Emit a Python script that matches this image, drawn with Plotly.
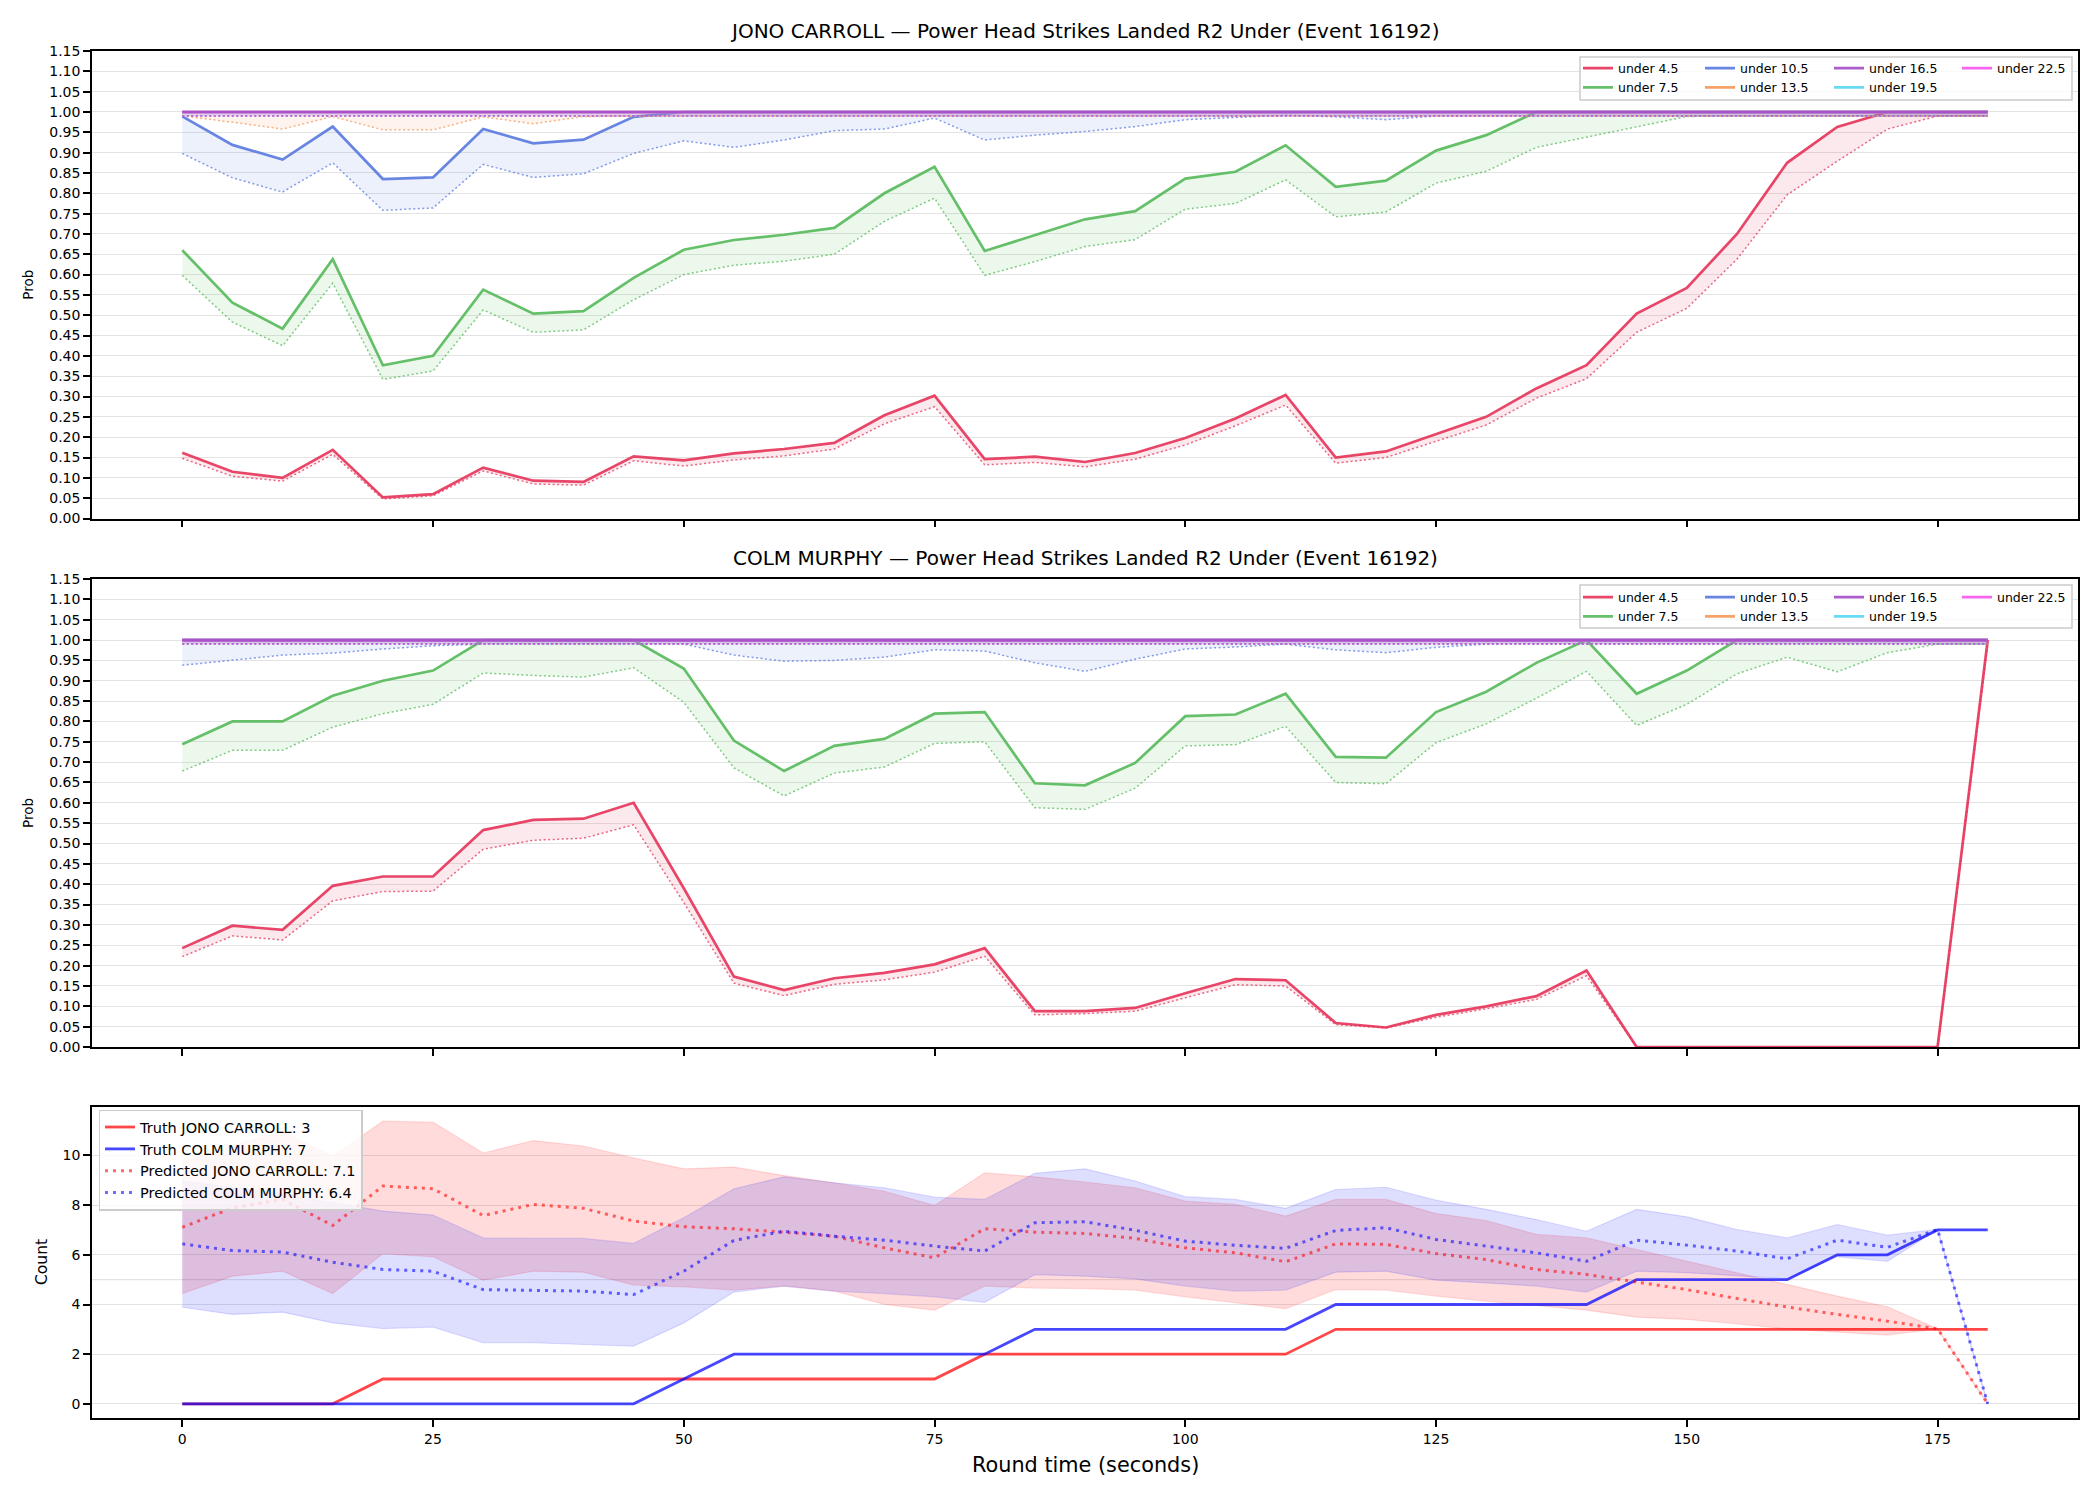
import plotly.graph_objects as go

# ---------------- data ----------------
t = [0, 5, 10, 15, 20, 25, 30, 35, 40, 45, 50, 55, 60, 65, 70, 75, 80, 85, 90, 95,
     100, 105, 110, 115, 120, 125, 130, 135, 140, 145, 150, 155, 160, 165, 170, 175, 180]

fighter_a = "JONO CARROLL"
fighter_b = "COLM MURPHY"
market = "Power Head Strikes Landed R2 Under (Event 16192)"

labels = ["under 4.5", "under 7.5", "under 10.5", "under 13.5", "under 16.5", "under 19.5", "under 22.5"]
colors = ["#e6365b", "#58bb5c", "#5b7be0", "#f59a5c", "#a550c8", "#5ad8f2", "#f558ee"]

# JONO CARROLL: solid line and dotted lower line per threshold
jono_u45 = [0.162, 0.115, 0.100, 0.169, 0.052, 0.060, 0.125, 0.093, 0.090, 0.153,
            0.143, 0.160, 0.171, 0.186, 0.254, 0.302, 0.146, 0.152, 0.139, 0.161,
            0.198, 0.246, 0.304, 0.150, 0.165, 0.207, 0.250, 0.320, 0.377, 0.504,
            0.567, 0.700, 0.875, 0.963, 1.0, 1.0, 1.0]
jono_u45_dot = [0.148, 0.104, 0.092, 0.158, 0.048, 0.056, 0.117, 0.085, 0.082, 0.142,
                0.129, 0.144, 0.154, 0.171, 0.233, 0.275, 0.132, 0.138, 0.127, 0.146,
                0.181, 0.228, 0.279, 0.136, 0.150, 0.190, 0.230, 0.296, 0.344, 0.458,
                0.517, 0.638, 0.796, 0.879, 0.958, 0.990, 0.990]
jono_u75 = [0.660, 0.531, 0.467, 0.638, 0.377, 0.400, 0.563, 0.504, 0.510, 0.592,
            0.661, 0.685, 0.698, 0.715, 0.800, 0.865, 0.658, 0.697, 0.736, 0.756,
            0.836, 0.853, 0.918, 0.816, 0.831, 0.905, 0.943, 1.0, 1.0, 1.0,
            1.0, 1.0, 1.0, 1.0, 1.0, 1.0, 1.0]
jono_u75_dot = [0.598, 0.483, 0.425, 0.579, 0.342, 0.363, 0.513, 0.458, 0.464, 0.538,
                0.600, 0.623, 0.633, 0.650, 0.731, 0.788, 0.598, 0.632, 0.669, 0.686,
                0.761, 0.775, 0.833, 0.742, 0.754, 0.825, 0.854, 0.913, 0.938, 0.963,
                0.989, 0.990, 0.990, 0.990, 0.990, 0.990, 0.990]
jono_u105 = [0.989, 0.919, 0.883, 0.964, 0.835, 0.839, 0.958, 0.923, 0.932, 0.988,
             1.0, 1.0, 1.0, 1.0, 1.0, 1.0, 1.0, 1.0, 1.0, 1.0,
             1.0, 1.0, 1.0, 1.0, 1.0, 1.0, 1.0, 1.0, 1.0, 1.0,
             1.0, 1.0, 1.0, 1.0, 1.0, 1.0, 1.0]
jono_u105_dot = [0.898, 0.838, 0.803, 0.875, 0.758, 0.764, 0.871, 0.839, 0.848, 0.898,
                 0.929, 0.913, 0.931, 0.954, 0.958, 0.985, 0.931, 0.943, 0.952, 0.964,
                 0.981, 0.986, 0.992, 0.988, 0.981, 0.990, 0.990, 0.990, 0.990, 0.990,
                 0.990, 0.990, 0.990, 0.990, 0.990, 0.990, 0.990]
jono_u135 = [1.0, 1.0, 1.0, 1.0, 1.0, 1.0, 1.0, 1.0, 1.0, 1.0,
             1.0, 1.0, 1.0, 1.0, 1.0, 1.0, 1.0, 1.0, 1.0, 1.0,
             1.0, 1.0, 1.0, 1.0, 1.0, 1.0, 1.0, 1.0, 1.0, 1.0,
             1.0, 1.0, 1.0, 1.0, 1.0, 1.0, 1.0]
jono_u135_dot = [0.990, 0.975, 0.958, 0.989, 0.956, 0.956, 0.988, 0.971, 0.989, 0.990,
                 0.990, 0.990, 0.990, 0.990, 0.990, 0.990, 0.990, 0.990, 0.990, 0.990,
                 0.990, 0.990, 0.990, 0.990, 0.990, 0.990, 0.990, 0.990, 0.990, 0.990,
                 0.990, 0.990, 0.990, 0.990, 0.990, 0.990, 0.990]
jono_u165 = [1.0, 1.0, 1.0, 1.0, 1.0, 1.0, 1.0, 1.0, 1.0, 1.0,
             1.0, 1.0, 1.0, 1.0, 1.0, 1.0, 1.0, 1.0, 1.0, 1.0,
             1.0, 1.0, 1.0, 1.0, 1.0, 1.0, 1.0, 1.0, 1.0, 1.0,
             1.0, 1.0, 1.0, 1.0, 1.0, 1.0, 1.0]
jono_u165_dot = [0.990, 0.990, 0.990, 0.990, 0.990, 0.990, 0.990, 0.990, 0.990, 0.990,
                 0.990, 0.990, 0.990, 0.990, 0.990, 0.990, 0.990, 0.990, 0.990, 0.990,
                 0.990, 0.990, 0.990, 0.990, 0.990, 0.990, 0.990, 0.990, 0.990, 0.990,
                 0.990, 0.990, 0.990, 0.990, 0.990, 0.990, 0.990]
jono_u195 = [1.0, 1.0, 1.0, 1.0, 1.0, 1.0, 1.0, 1.0, 1.0, 1.0,
             1.0, 1.0, 1.0, 1.0, 1.0, 1.0, 1.0, 1.0, 1.0, 1.0,
             1.0, 1.0, 1.0, 1.0, 1.0, 1.0, 1.0, 1.0, 1.0, 1.0,
             1.0, 1.0, 1.0, 1.0, 1.0, 1.0, 1.0]
jono_u195_dot = [0.990, 0.990, 0.990, 0.990, 0.990, 0.990, 0.990, 0.990, 0.990, 0.990,
                 0.990, 0.990, 0.990, 0.990, 0.990, 0.990, 0.990, 0.990, 0.990, 0.990,
                 0.990, 0.990, 0.990, 0.990, 0.990, 0.990, 0.990, 0.990, 0.990, 0.990,
                 0.990, 0.990, 0.990, 0.990, 0.990, 0.990, 0.990]
jono_u225 = [1.0, 1.0, 1.0, 1.0, 1.0, 1.0, 1.0, 1.0, 1.0, 1.0,
             1.0, 1.0, 1.0, 1.0, 1.0, 1.0, 1.0, 1.0, 1.0, 1.0,
             1.0, 1.0, 1.0, 1.0, 1.0, 1.0, 1.0, 1.0, 1.0, 1.0,
             1.0, 1.0, 1.0, 1.0, 1.0, 1.0, 1.0]
jono_u225_dot = [0.990, 0.990, 0.990, 0.990, 0.990, 0.990, 0.990, 0.990, 0.990, 0.990,
                 0.990, 0.990, 0.990, 0.990, 0.990, 0.990, 0.990, 0.990, 0.990, 0.990,
                 0.990, 0.990, 0.990, 0.990, 0.990, 0.990, 0.990, 0.990, 0.990, 0.990,
                 0.990, 0.990, 0.990, 0.990, 0.990, 0.990, 0.990]

# COLM MURPHY
colm_u45 = [0.243, 0.298, 0.288, 0.396, 0.419, 0.419, 0.533, 0.558, 0.561, 0.600,
            0.390, 0.173, 0.140, 0.169, 0.182, 0.203, 0.243, 0.088, 0.088, 0.096,
            0.132, 0.167, 0.164, 0.059, 0.048, 0.079, 0.100, 0.125, 0.188, 0.0,
            0.0, 0.0, 0.0, 0.0, 0.0, 0.0, 1.0]
colm_u45_dot = [0.222, 0.273, 0.263, 0.359, 0.382, 0.383, 0.486, 0.508, 0.513, 0.546,
                0.355, 0.157, 0.126, 0.154, 0.165, 0.184, 0.223, 0.079, 0.082, 0.088,
                0.121, 0.153, 0.150, 0.055, 0.047, 0.073, 0.094, 0.117, 0.175, 0.0,
                0.0, 0.0, 0.0, 0.0, 0.0, 0.0, 0.990]
colm_u75 = [0.744, 0.800, 0.800, 0.863, 0.900, 0.925, 1.0, 1.0, 1.0, 1.0,
            0.930, 0.753, 0.678, 0.740, 0.757, 0.819, 0.823, 0.648, 0.643, 0.698,
            0.813, 0.817, 0.868, 0.713, 0.711, 0.823, 0.873, 0.944, 1.0, 0.868,
            0.925, 1.0, 1.0, 1.0, 1.0, 1.0, 1.0]
colm_u75_dot = [0.678, 0.729, 0.729, 0.786, 0.819, 0.842, 0.919, 0.913, 0.909, 0.932,
                0.847, 0.686, 0.617, 0.673, 0.688, 0.746, 0.750, 0.588, 0.584, 0.636,
                0.740, 0.743, 0.788, 0.650, 0.647, 0.748, 0.794, 0.857, 0.923, 0.790,
                0.842, 0.917, 0.958, 0.922, 0.969, 0.990, 0.990]
colm_u105 = [1.0, 1.0, 1.0, 1.0, 1.0, 1.0, 1.0, 1.0, 1.0, 1.0,
             1.0, 1.0, 1.0, 1.0, 1.0, 1.0, 1.0, 1.0, 1.0, 1.0,
             1.0, 1.0, 1.0, 1.0, 1.0, 1.0, 1.0, 1.0, 1.0, 1.0,
             1.0, 1.0, 1.0, 1.0, 1.0, 1.0, 1.0]
colm_u105_dot = [0.938, 0.950, 0.963, 0.968, 0.978, 0.986, 0.990, 0.990, 0.990, 0.990,
                 0.990, 0.963, 0.948, 0.950, 0.958, 0.976, 0.973, 0.944, 0.923, 0.953,
                 0.978, 0.983, 0.990, 0.976, 0.969, 0.982, 0.990, 0.990, 0.990, 0.990,
                 0.990, 0.990, 0.990, 0.990, 0.990, 0.990, 0.990]
colm_u135 = [1.0, 1.0, 1.0, 1.0, 1.0, 1.0, 1.0, 1.0, 1.0, 1.0,
             1.0, 1.0, 1.0, 1.0, 1.0, 1.0, 1.0, 1.0, 1.0, 1.0,
             1.0, 1.0, 1.0, 1.0, 1.0, 1.0, 1.0, 1.0, 1.0, 1.0,
             1.0, 1.0, 1.0, 1.0, 1.0, 1.0, 1.0]
colm_u135_dot = [0.990, 0.990, 0.990, 0.990, 0.990, 0.990, 0.990, 0.990, 0.990, 0.990,
                 0.990, 0.990, 0.990, 0.990, 0.990, 0.990, 0.990, 0.990, 0.990, 0.990,
                 0.990, 0.990, 0.990, 0.990, 0.990, 0.990, 0.990, 0.990, 0.990, 0.990,
                 0.990, 0.990, 0.990, 0.990, 0.990, 0.990, 0.990]
colm_u165 = [1.0, 1.0, 1.0, 1.0, 1.0, 1.0, 1.0, 1.0, 1.0, 1.0,
             1.0, 1.0, 1.0, 1.0, 1.0, 1.0, 1.0, 1.0, 1.0, 1.0,
             1.0, 1.0, 1.0, 1.0, 1.0, 1.0, 1.0, 1.0, 1.0, 1.0,
             1.0, 1.0, 1.0, 1.0, 1.0, 1.0, 1.0]
colm_u165_dot = [0.990, 0.990, 0.990, 0.990, 0.990, 0.990, 0.990, 0.990, 0.990, 0.990,
                 0.990, 0.990, 0.990, 0.990, 0.990, 0.990, 0.990, 0.990, 0.990, 0.990,
                 0.990, 0.990, 0.990, 0.990, 0.990, 0.990, 0.990, 0.990, 0.990, 0.990,
                 0.990, 0.990, 0.990, 0.990, 0.990, 0.990, 0.990]
colm_u195 = [1.0, 1.0, 1.0, 1.0, 1.0, 1.0, 1.0, 1.0, 1.0, 1.0,
             1.0, 1.0, 1.0, 1.0, 1.0, 1.0, 1.0, 1.0, 1.0, 1.0,
             1.0, 1.0, 1.0, 1.0, 1.0, 1.0, 1.0, 1.0, 1.0, 1.0,
             1.0, 1.0, 1.0, 1.0, 1.0, 1.0, 1.0]
colm_u195_dot = [0.990, 0.990, 0.990, 0.990, 0.990, 0.990, 0.990, 0.990, 0.990, 0.990,
                 0.990, 0.990, 0.990, 0.990, 0.990, 0.990, 0.990, 0.990, 0.990, 0.990,
                 0.990, 0.990, 0.990, 0.990, 0.990, 0.990, 0.990, 0.990, 0.990, 0.990,
                 0.990, 0.990, 0.990, 0.990, 0.990, 0.990, 0.990]
colm_u225 = [1.0, 1.0, 1.0, 1.0, 1.0, 1.0, 1.0, 1.0, 1.0, 1.0,
             1.0, 1.0, 1.0, 1.0, 1.0, 1.0, 1.0, 1.0, 1.0, 1.0,
             1.0, 1.0, 1.0, 1.0, 1.0, 1.0, 1.0, 1.0, 1.0, 1.0,
             1.0, 1.0, 1.0, 1.0, 1.0, 1.0, 1.0]
colm_u225_dot = [0.990, 0.990, 0.990, 0.990, 0.990, 0.990, 0.990, 0.990, 0.990, 0.990,
                 0.990, 0.990, 0.990, 0.990, 0.990, 0.990, 0.990, 0.990, 0.990, 0.990,
                 0.990, 0.990, 0.990, 0.990, 0.990, 0.990, 0.990, 0.990, 0.990, 0.990,
                 0.990, 0.990, 0.990, 0.990, 0.990, 0.990, 0.990]

# Counts panel
jono_truth = [0, 0, 0, 0, 1, 1, 1, 1, 1, 1,
              1, 1, 1, 1, 1, 1, 2, 2, 2, 2,
              2, 2, 2, 3, 3, 3, 3, 3, 3, 3,
              3, 3, 3, 3, 3, 3, 3]
colm_truth = [0, 0, 0, 0, 0, 0, 0, 0, 0, 0,
              1, 2, 2, 2, 2, 2, 2, 3, 3, 3,
              3, 3, 3, 4, 4, 4, 4, 4, 4, 5,
              5, 5, 5, 6, 6, 7, 7]
jono_pred = [7.11, 7.89, 8.23, 7.18, 8.77, 8.66, 7.58, 8.03, 7.87, 7.36,
             7.13, 7.05, 6.91, 6.75, 6.28, 5.88, 7.05, 6.91, 6.86, 6.66,
             6.28, 6.08, 5.72, 6.44, 6.42, 6.05, 5.81, 5.41, 5.21, 4.90,
             4.60, 4.24, 3.90, 3.60, 3.33, 3.02, 0.0]
jono_hi = [9.73, 10.40, 10.95, 9.97, 11.38, 11.34, 10.10, 10.60, 10.38, 9.90,
           9.46, 9.53, 9.19, 8.90, 8.56, 7.99, 9.30, 9.14, 8.93, 8.70,
           8.16, 8.03, 7.56, 8.23, 8.23, 7.66, 7.38, 6.82, 6.68, 6.21,
           5.74, 5.28, 4.81, 4.34, 3.91, 3.02, 0.0]
jono_lo = [4.44, 5.14, 5.34, 4.44, 6.05, 5.92, 4.98, 5.34, 5.30, 4.78,
           4.71, 4.58, 4.74, 4.54, 4.00, 3.77, 4.74, 4.66, 4.64, 4.58,
           4.31, 4.07, 3.83, 4.60, 4.58, 4.34, 4.13, 3.96, 3.77, 3.49,
           3.40, 3.22, 3.02, 2.89, 2.77, 3.02, 0.0]
colm_pred = [6.44, 6.17, 6.11, 5.70, 5.41, 5.34, 4.60, 4.58, 4.54, 4.40,
             5.34, 6.58, 6.95, 6.75, 6.59, 6.35, 6.15, 7.29, 7.33, 6.99,
             6.55, 6.38, 6.26, 6.98, 7.09, 6.62, 6.35, 6.08, 5.74, 6.59,
             6.39, 6.15, 5.84, 6.59, 6.30, 7.02, 0.0]
colm_hi = [8.97, 8.72, 8.45, 8.10, 7.76, 7.60, 6.68, 6.66, 6.66, 6.46,
           7.49, 8.66, 9.14, 8.90, 8.70, 8.32, 8.23, 9.28, 9.46, 8.97,
           8.34, 8.23, 7.87, 8.63, 8.72, 8.20, 7.83, 7.42, 6.95, 7.83,
           7.53, 7.02, 6.68, 7.22, 6.79, 7.02, 0.0]
colm_lo = [3.89, 3.60, 3.69, 3.26, 3.03, 3.09, 2.46, 2.46, 2.39, 2.32,
           3.26, 4.50, 4.74, 4.54, 4.44, 4.31, 4.09, 5.20, 5.14, 5.03,
           4.74, 4.54, 4.58, 5.30, 5.34, 4.98, 4.87, 4.74, 4.50, 5.34,
           5.28, 5.14, 5.03, 5.92, 5.74, 7.02, 0.0]
count_ref_line = 5

x_ticks = [0, 25, 50, 75, 100, 125, 150, 175]
count_ticks = [0, 2, 4, 6, 8, 10]

jono_main = [jono_u45, jono_u75, jono_u105, jono_u135, jono_u165, jono_u195, jono_u225]
jono_dot = [jono_u45_dot, jono_u75_dot, jono_u105_dot, jono_u135_dot, jono_u165_dot, jono_u195_dot, jono_u225_dot]
colm_main = [colm_u45, colm_u75, colm_u105, colm_u135, colm_u165, colm_u195, colm_u225]
colm_dot = [colm_u45_dot, colm_u75_dot, colm_u105_dot, colm_u135_dot, colm_u165_dot, colm_u195_dot, colm_u225_dot]

# ---------------- helpers ----------------
FONT = "DejaVu Sans"


def rgba(hexc, a):
    h = hexc.lstrip("#")
    return "rgba(%d,%d,%d,%.3f)" % (int(h[0:2], 16), int(h[2:4], 16), int(h[4:6], 16), a)


# pixel geometry of the figure
W, H = 2100, 1500
L, R, T, B = 92, 22, 51, 82
PW, PH = W - L - R, H - T - B


def px_x(p):
    return (p - L) / PW


def px_y(p):
    return (H - B - p) / PH


fig = go.Figure()

# draw order puts "under 16.5" on top of the lines at 1.0
draw_order = [0, 1, 2, 3, 5, 6, 4]
legend_col = [0, 0, 1, 1, 2, 2, 3]


def add_prob_panel(mains, dots, xa, ya, legend_names):
    for i in draw_order:
        c = colors[i]
        grp = legend_names[legend_col[i]]
        fig.add_trace(go.Scatter(x=t, y=dots[i], mode="lines", xaxis=xa, yaxis=ya,
                                 line=dict(color=rgba(c, 0.75), width=1.5, dash="2px,2.5px"),
                                 showlegend=False, hoverinfo="skip", legend=grp))
        fig.add_trace(go.Scatter(x=t, y=mains[i], mode="lines", xaxis=xa, yaxis=ya,
                                 line=dict(width=0), fill="tonexty", fillcolor=rgba(c, 0.11),
                                 showlegend=False, hoverinfo="skip", legend=grp))
        fig.add_trace(go.Scatter(x=t, y=mains[i], mode="lines", xaxis=xa, yaxis=ya,
                                 name=labels[i], line=dict(color=rgba(c, 0.92), width=2.7),
                                 legend=grp, legendrank=i + 1))


add_prob_panel(jono_main, jono_dot, "x", "y", ["legend", "legend2", "legend3", "legend4"])
add_prob_panel(colm_main, colm_dot, "x2", "y2", ["legend5", "legend6", "legend7", "legend8"])

# counts panel
RED, BLUE = "#ff0000", "#0000ff"
fig.add_trace(go.Scatter(x=t, y=jono_lo, mode="lines", xaxis="x3", yaxis="y3", legend="legend9",
                         line=dict(color=rgba(RED, 0.12), width=1.2), showlegend=False, hoverinfo="skip"))
fig.add_trace(go.Scatter(x=t, y=jono_hi, mode="lines", xaxis="x3", yaxis="y3", fill="tonexty", legend="legend9",
                         fillcolor=rgba(RED, 0.14), line=dict(color=rgba(RED, 0.12), width=1.2),
                         showlegend=False, hoverinfo="skip"))
fig.add_trace(go.Scatter(x=t, y=colm_lo, mode="lines", xaxis="x3", yaxis="y3", legend="legend9",
                         line=dict(color=rgba(BLUE, 0.12), width=1.2), showlegend=False, hoverinfo="skip"))
fig.add_trace(go.Scatter(x=t, y=colm_hi, mode="lines", xaxis="x3", yaxis="y3", fill="tonexty", legend="legend9",
                         fillcolor=rgba(BLUE, 0.13), line=dict(color=rgba(BLUE, 0.12), width=1.2),
                         showlegend=False, hoverinfo="skip"))
fig.add_trace(go.Scatter(x=t, y=jono_truth, mode="lines", xaxis="x3", yaxis="y3",
                         name="Truth %s: %s" % (fighter_a, jono_truth[-1]),
                         line=dict(color=rgba(RED, 0.72), width=2.8), legend="legend9", legendrank=1))
fig.add_trace(go.Scatter(x=t, y=colm_truth, mode="lines", xaxis="x3", yaxis="y3",
                         name="Truth %s: %s" % (fighter_b, colm_truth[-1]),
                         line=dict(color=rgba(BLUE, 0.72), width=2.8), legend="legend9", legendrank=2))
fig.add_trace(go.Scatter(x=t, y=jono_pred, mode="lines", xaxis="x3", yaxis="y3",
                         name="Predicted %s: %.1f" % (fighter_a, jono_pred[0]),
                         line=dict(color=rgba(RED, 0.58), width=3, dash="3px,5px"),
                         legend="legend9", legendrank=3))
fig.add_trace(go.Scatter(x=t, y=colm_pred, mode="lines", xaxis="x3", yaxis="y3",
                         name="Predicted %s: %.1f" % (fighter_b, colm_pred[0]),
                         line=dict(color=rgba(BLUE, 0.58), width=3, dash="3px,5px"),
                         legend="legend9", legendrank=4))

# ---------------- layout ----------------
GRID = "#e3e3e3"
axis_common = dict(showline=True, linecolor="black", linewidth=1.6, mirror=True,
                   ticks="outside", ticklen=7, tickwidth=1.6, tickcolor="black",
                   tickfont=dict(family=FONT, size=14, color="black"), zeroline=False)

top_dom = [px_y(518.5), 1.0]
mid_dom = [px_y(1047), px_y(579)]
bot_dom = [0.0, px_y(1107)]

xcommon = dict(axis_common, range=[-9, 189], tickvals=x_ticks, showgrid=False)
fig.update_layout(
    xaxis=dict(xcommon, domain=[0, 1], anchor="y", matches="x3", showticklabels=False),
    xaxis2=dict(xcommon, domain=[0, 1], anchor="y2", matches="x3", showticklabels=False),
    xaxis3=dict(xcommon, domain=[0, 1], anchor="y3"),
    yaxis=dict(axis_common, domain=top_dom, anchor="x", range=[0, 1.15], tick0=0, dtick=0.05,
               tickformat=".2f", showgrid=True, gridcolor=GRID, gridwidth=1.2),
    yaxis2=dict(axis_common, domain=mid_dom, anchor="x2", range=[0, 1.15], tick0=0, dtick=0.05,
                tickformat=".2f", showgrid=True, gridcolor=GRID, gridwidth=1.2),
    yaxis3=dict(axis_common, domain=bot_dom, anchor="x3", range=[-0.569, 11.95], tickvals=count_ticks,
                showgrid=True, gridcolor=GRID, gridwidth=1.2),
)

# legends: 4 column legends per probability panel, framed by one box
leg_small = dict(font=dict(family=FONT, size=12.5, color="black"), bgcolor="rgba(0,0,0,0)",
                 borderwidth=0, orientation="v", xanchor="left", yanchor="top", traceorder="normal",
                 tracegroupgap=0, itemclick=False, itemdoubleclick=False)
col_px = [1578, 1700, 1829, 1957]
legend_defs = {}
names_top = ["legend", "legend2", "legend3", "legend4"]
names_mid = ["legend5", "legend6", "legend7", "legend8"]
for k in range(4):
    legend_defs[names_top[k]] = dict(leg_small, x=px_x(col_px[k]), y=px_y(53.4))
    legend_defs[names_mid[k]] = dict(leg_small, x=px_x(col_px[k]), y=px_y(582.4))
legend_defs["legend9"] = dict(font=dict(family=FONT, size=14.5, color="black"),
                              bgcolor="rgba(255,255,255,0.8)", bordercolor="#cccccc", borderwidth=1.5,
                              orientation="v", xanchor="left", yanchor="top", traceorder="normal",
                              x=px_x(98.5), y=px_y(1109.6), tracegroupgap=0)
fig.update_layout(**legend_defs)

shapes = []
for (y0, y1) in [(57, 100), (585, 628)]:
    shapes.append(dict(type="rect", xref="paper", yref="paper", x0=px_x(1580), x1=px_x(2072),
                       y0=px_y(y1), y1=px_y(y0), fillcolor="rgba(255,255,255,0.8)",
                       line=dict(color="#cccccc", width=1.5), layer="above"))
shapes.append(dict(type="line", xref="x3 domain", yref="y3", x0=0, x1=1, y0=count_ref_line, y1=count_ref_line,
                   line=dict(color=GRID, width=1.2), layer="below"))

annotations = [
    dict(text="%s — %s" % (fighter_a, market), xref="paper", yref="paper", x=0.5, y=px_y(31),
         xanchor="center", yanchor="middle", showarrow=False, font=dict(family=FONT, size=20, color="black")),
    dict(text="%s — %s" % (fighter_b, market), xref="paper", yref="paper", x=0.5, y=px_y(558),
         xanchor="center", yanchor="middle", showarrow=False, font=dict(family=FONT, size=20, color="black")),
    dict(text="Prob", xref="paper", yref="paper", x=px_x(28), y=(top_dom[0] + top_dom[1]) / 2,
         xanchor="center", yanchor="middle", textangle=-90, showarrow=False,
         font=dict(family=FONT, size=13.5, color="black")),
    dict(text="Prob", xref="paper", yref="paper", x=px_x(28), y=(mid_dom[0] + mid_dom[1]) / 2,
         xanchor="center", yanchor="middle", textangle=-90, showarrow=False,
         font=dict(family=FONT, size=13.5, color="black")),
    dict(text="Count", xref="paper", yref="paper", x=px_x(41.5), y=(bot_dom[0] + bot_dom[1]) / 2,
         xanchor="center", yanchor="middle", textangle=-90, showarrow=False,
         font=dict(family=FONT, size=15.5, color="black")),
    dict(text="Round time (seconds)", xref="paper", yref="paper", x=0.5, y=px_y(1465),
         xanchor="center", yanchor="middle", showarrow=False, font=dict(family=FONT, size=20.8, color="black")),
]

fig.update_layout(
    width=W, height=H, autosize=False,
    margin=dict(l=L, r=R, t=T, b=B, pad=0),
    paper_bgcolor="white", plot_bgcolor="white",
    font=dict(family=FONT, color="black"),
    shapes=shapes, annotations=annotations,
    hovermode=False,
)

fig.write_html("out.html")
